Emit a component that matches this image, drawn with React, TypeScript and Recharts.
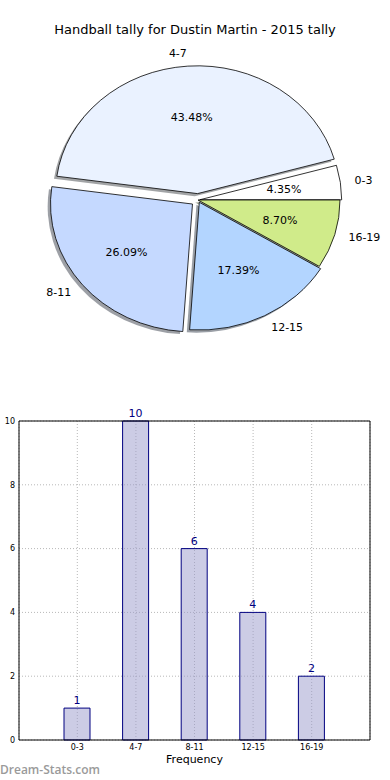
import React from 'react';
import { PieChart, Pie, BarChart, Bar, XAxis, YAxis, CartesianGrid, LabelList, ReferenceLine } from 'recharts';

const categories = ['0-3', '4-7', '8-11', '12-15', '16-19'];
const tallies = [1, 10, 6, 4, 2];
const yTicks = [0, 2, 4, 6, 8, 10];

const pieData = categories.map((name, i) => ({ name, value: tallies[i] }));
const barData = categories.map((name, i) => ({ name, value: tallies[i] }));

// styles
const sliceColors = ['#ffffff', '#eaf2ff', '#c5d9ff', '#b3d5ff', '#d0eb8a'];
const explode = [0.012, 0.05, 0.05, 0.02, 0];
const RY = 0.9;
const RAD = Math.PI / 180;
const FONT = '"DejaVu Sans", sans-serif';

function idxOf(p: any): number {
  if (typeof p.index === 'number') return p.index;
  const n = p.name ?? (p.payload && p.payload.name);
  return categories.indexOf(n);
}

function geom(p: any) {
  const i = idxOf(p);
  const rx = p.outerRadius;
  const ry = rx * RY;
  const e = explode[i] ?? 0;
  const m = p.midAngle * RAD;
  const ex = p.cx + e * rx * Math.cos(m);
  const ey = p.cy - e * ry * Math.sin(m);
  return { i, rx, ry, ex, ey, m };
}

function wedgePath(ex: number, ey: number, rx: number, ry: number, s: number, e: number) {
  const a0 = s * RAD;
  const a1 = e * RAD;
  const x0 = ex + rx * Math.cos(a0);
  const y0 = ey - ry * Math.sin(a0);
  const x1 = ex + rx * Math.cos(a1);
  const y1 = ey - ry * Math.sin(a1);
  const large = Math.abs(e - s) > 180 ? 1 : 0;
  return `M${ex},${ey}L${x0},${y0}A${rx},${ry} 0 ${large} 0 ${x1},${y1}Z`;
}

function darken(hex: string) {
  const r = parseInt(hex.slice(1, 3), 16);
  const g = parseInt(hex.slice(3, 5), 16);
  const b = parseInt(hex.slice(5, 7), 16);
  return `rgb(${Math.round(r * 0.3)},${Math.round(g * 0.3)},${Math.round(b * 0.3)})`;
}

const renderShadow = (p: any) => {
  const { i, rx, ry, ex, ey } = geom(p);
  const d = wedgePath(ex - 0.02 * rx, ey + 0.02 * ry, rx, ry, p.startAngle, p.endAngle);
  return <path key={`s${i}`} d={d} fill={darken(sliceColors[i])} fillOpacity={0.5} stroke="none" />;
};

const renderWedge = (p: any) => {
  const { i, rx, ry, ex, ey } = geom(p);
  const d = wedgePath(ex, ey, rx, ry, p.startAngle, p.endAngle);
  return <path key={`w${i}`} d={d} fill={sliceColors[i]} stroke="#000" strokeWidth={0.8} strokeLinejoin="miter" />;
};

const renderText = (p: any) => {
  const { i, rx, ry, ex, ey, m } = geom(p);
  const c = Math.cos(m);
  const s = Math.sin(m);
  const lx = ex + 1.1 * rx * c;
  const ly = ey - 1.1 * ry * s;
  const px = ex + 0.6 * rx * c;
  const py = ey - 0.6 * ry * s;
  const pct = (p.percent * 100).toFixed(2) + '%';
  return (
    <g key={`t${i}`}>
      <text x={lx} y={ly} textAnchor={c > 0 ? 'start' : 'end'} dominantBaseline="central" fontSize={11} fontFamily={FONT} fill="#000">
        {categories[i]}
      </text>
      <text x={px} y={py} textAnchor="middle" dominantBaseline="central" fontSize={11} fontFamily={FONT} fill="#000">
        {pct}
      </text>
    </g>
  );
};

export default function App() {
  return (
    <div style={{ position: 'absolute', left: 0, top: 0, width: 390, height: 780, background: '#fff', fontFamily: FONT, overflow: 'hidden' }}>
      <div style={{ position: 'absolute', left: 0, top: 21, width: 390, textAlign: 'center', fontSize: 13, color: '#000', fontFamily: FONT, lineHeight: '18px' }}>
        Handball tally for Dustin Martin - 2015 tally
      </div>
      <div style={{ position: 'absolute', left: 0, top: 0 }}>
        <PieChart width={390} height={390} margin={{ top: 0, right: 0, bottom: 0, left: 0 }}>
          <Pie data={pieData} dataKey="value" nameKey="name" cx={198} cy={200} outerRadius={142} startAngle={0} endAngle={360}
            fill="none" stroke="none" label={renderShadow} labelLine={false} isAnimationActive={false} />
          <Pie data={pieData} dataKey="value" nameKey="name" cx={198} cy={200} outerRadius={142} startAngle={0} endAngle={360}
            fill="none" stroke="none" label={renderWedge} labelLine={false} isAnimationActive={false} />
          <Pie data={pieData} dataKey="value" nameKey="name" cx={198} cy={200} outerRadius={142} startAngle={0} endAngle={360}
            fill="none" stroke="none" label={renderText} labelLine={false} isAnimationActive={false} />
        </PieChart>
      </div>
      <div style={{ position: 'absolute', left: 0, top: 400 }}>
        <BarChart width={390} height={380} data={barData} margin={{ top: 21, right: 19, bottom: 0, left: 0 }}>
          <CartesianGrid stroke="#b8b8b8" strokeDasharray="1 2" />
          <XAxis dataKey="name" padding={{ left: 29, right: 29 }} height={40} tickLine={false} tickSize={2} interval={0}
            tick={{ fontSize: 8, fill: '#000', fontFamily: FONT }} axisLine={{ stroke: '#000' }}
            label={{ value: 'Frequency', position: 'insideTop', offset: 15, fontSize: 11, fill: '#000', fontFamily: FONT }} />
          <YAxis domain={[0, 10]} ticks={yTicks} width={19} tickLine={false} tickSize={2} tickMargin={2} interval={0}
            tick={{ fontSize: 8, fill: '#000', fontFamily: FONT }} axisLine={{ stroke: '#000' }}
            label={{ value: 'Distribution', angle: -90, position: 'insideLeft', offset: -7, fontSize: 11, fill: '#000', fontFamily: FONT }} />
          <YAxis yAxisId="r" orientation="right" width={1} domain={[0, 10]} tick={false} tickLine={false} axisLine={{ stroke: '#000' }} />
          <ReferenceLine y={10} stroke="#000" />
          <Bar dataKey="value" fill="#9999cc" fillOpacity={0.5} stroke="#000080" strokeWidth={1} barSize={26} isAnimationActive={false}>
            <LabelList dataKey="value" position="top" offset={4} fill="#000080" fontSize={11} fontFamily={FONT} />
          </Bar>
        </BarChart>
      </div>
      <div style={{ position: 'absolute', left: 0, top: 762, fontSize: 12, color: '#9a9a9a', fontWeight: 600, fontFamily: '"Open Sans", sans-serif', lineHeight: '16px' }}>
        Dream-Stats.com
      </div>
    </div>
  );
}
